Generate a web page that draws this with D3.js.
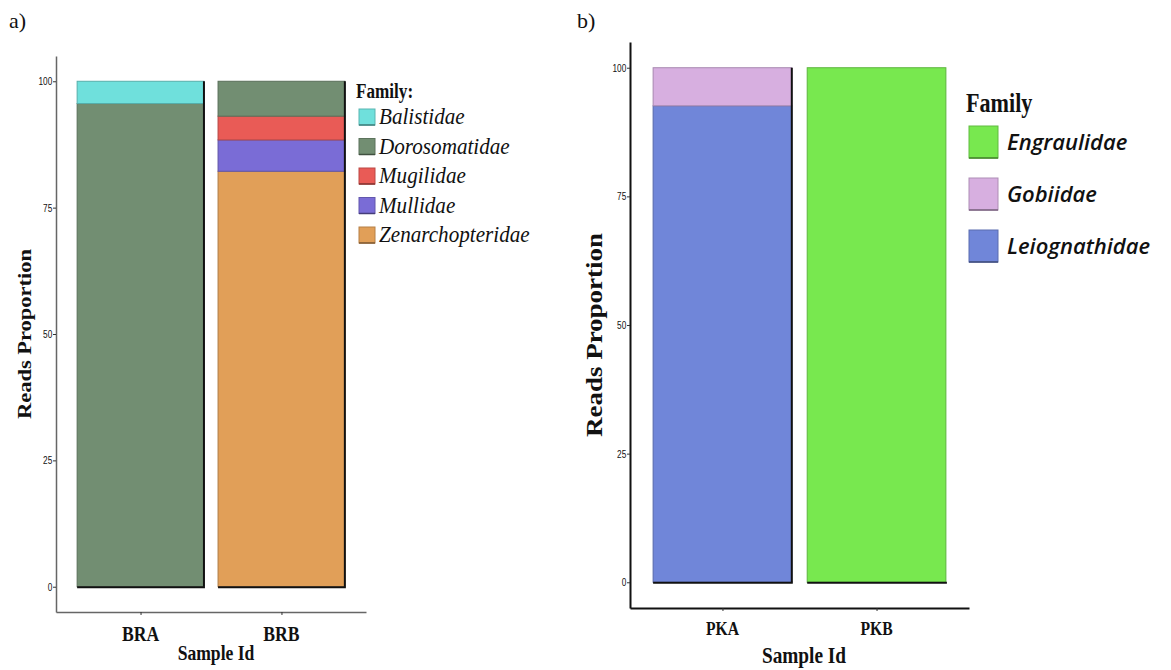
<!DOCTYPE html>
<html>
<head>
<meta charset="utf-8">
<script src="https://cdn.jsdelivr.net/npm/d3@7"></script>
<style>
  body { margin: 0; background: #fff; }
  svg { display: block; }
</style>
</head>
<body>
<svg id="chart" width="1171" height="670"></svg>
<script>
// --- panel a data ---
const samplesA = ['BRA', 'BRB'];
const familiesA = ['Balistidae', 'Dorosomatidae', 'Mugilidae', 'Mullidae', 'Zenarchopteridae'];
const coloursA = ['#6fe0dc', '#728e72', '#e95b56', '#7a6cd6', '#e19f58'];
const readsBRA = [4.4, 95.6, 0, 0, 0];
const readsBRB = [0, 6.9, 4.7, 6.2, 82.2];

// --- panel b data ---
const samplesB = ['PKA', 'PKB'];
const familiesB = ['Engraulidae', 'Gobiidae', 'Leiognathidae'];
const coloursB = ['#78e84f', '#d7afe0', '#7086d9'];
const readsPKA = [0, 7.4, 92.6];
const readsPKB = [100, 0, 0];

const yTicks = [0, 25, 50, 75, 100];

const svg = d3.select('#chart');
svg.append('rect').attr('width', 1171).attr('height', 670).attr('fill', '#fff');

function toRows(samples, families, values) {
  return samples.map((s, i) => {
    const row = { sample: s };
    families.forEach((f, j) => { row[f] = values[i][j]; });
    return row;
  });
}

// text with horizontal squeeze (the figure was saved stretched)
function label(g, txt, x, y, o) {
  const t = g.append('text')
    .attr('transform', `translate(${x},${y})` + (o.rotate ? ' rotate(-90)' : '') +
      (o.rotate ? ` scale(1,${o.sq || 1})` : ` scale(${o.sq || 1},1)`))
    .attr('text-anchor', o.anchor || 'start')
    .style('font-family', o.family || '"Liberation Serif", "Times New Roman", serif')
    .style('font-size', o.size + 'px')
    .style('font-weight', o.weight || 'normal')
    .style('font-style', o.italic ? 'italic' : 'normal')
    .attr('fill', o.fill || '#111')
    .text(txt);
  return t;
}

function drawPanel(p) {
  const g = svg.append('g');
  const rows = toRows(p.samples, p.families, p.values);

  const x = d3.scalePoint().domain(p.samples).range(p.xRange).padding(0.6);
  const y = d3.scaleLinear().domain([-5, 105]).range(p.yRange);
  const bw = x.step() * 0.9;

  // stacked bars, ggplot order: first legend entry on top
  const layers = d3.stack().keys(p.families.slice().reverse())(rows);
  const colourOf = d3.scaleOrdinal().domain(p.families).range(p.colours);

  layers.forEach(layer => {
    g.append('g').selectAll('rect')
      .data(layer.filter(d => d[1] - d[0] > 0))
      .join('rect')
      .attr('x', d => x(d.data.sample) - bw / 2)
      .attr('y', d => y(d[1]))
      .attr('width', bw)
      .attr('height', d => y(d[0]) - y(d[1]))
      .attr('fill', colourOf(layer.key))
      .attr('stroke', d3.color(colourOf(layer.key)).darker(0.7))
      .attr('stroke-width', 1);
  });

  // dark right/bottom edge on each bar
  const edges = g.append('g').attr('stroke', '#111').attr('stroke-width', 2);
  rows.forEach(r => {
    const total = d3.sum(p.families, f => r[f]);
    const x1 = x(r.sample) + bw / 2;
    if (p.rightEdge.includes(r.sample)) {
      edges.append('line').attr('x1', x1).attr('x2', x1).attr('y1', y(total)).attr('y2', y(0));
    }
    edges.append('line').attr('x1', x1 - bw).attr('x2', x1 + 1).attr('y1', y(0) + 0.5).attr('y2', y(0) + 0.5);
  });

  // y axis
  const ya = g.append('g')
    .attr('transform', `translate(${p.xRange[0]},0)`)
    .call(d3.axisLeft(y).tickValues(yTicks).tickSize(3).tickSizeOuter(0).tickPadding(2));
  ya.select('.domain').attr('stroke', p.axisColour).attr('stroke-width', p.axisWidth);
  ya.selectAll('.tick line').attr('stroke', '#333');
  ya.selectAll('.tick text')
    .attr('transform', 'scale(0.75,1)')
    .style('font-family', '"Liberation Sans", Arial, sans-serif')
    .style('font-size', '11px')
    .attr('fill', '#111');

  // x axis
  const xa = g.append('g')
    .attr('transform', `translate(0,${p.yRange[0]})`)
    .call(d3.axisBottom(x).tickSize(3).tickSizeOuter(0));
  xa.select('.domain').attr('stroke', p.axisColour).attr('stroke-width', p.axisWidth);
  xa.selectAll('.tick line').attr('stroke', '#333');
  xa.selectAll('.tick text').remove();
  p.samples.forEach(s => {
    label(g, s, x(s), p.tickBaseline, { size: p.tickSize, weight: 'bold', anchor: 'middle', sq: p.tickSq });
  });

  // axis titles
  label(g, 'Sample Id', p.xTitle[0], p.xTitle[1], { size: p.titleSize, weight: 'bold', anchor: 'middle', sq: p.titleSq });
  label(g, 'Reads Proportion', p.yTitle[0], p.yTitle[1], { size: p.yTitleSize, weight: 'bold', anchor: 'middle', rotate: true, sq: p.titleSq });

  // panel tag
  label(g, p.tag, p.tagPos[0], p.tagPos[1], { size: 22 });

  // legend
  const lg = p.legend;
  label(g, lg.title, lg.x - 3, lg.titleY, { size: lg.titleSize, weight: 'bold', sq: lg.titleSq });
  p.families.forEach((f, i) => {
    const cy = lg.y0 + i * lg.step;
    g.append('rect')
      .attr('x', lg.x).attr('y', cy - lg.h / 2)
      .attr('width', lg.w).attr('height', lg.h)
      .attr('fill', colourOf(f))
      .attr('stroke', d3.color(colourOf(f)).darker(0.6)).attr('stroke-width', 1);
    g.append('line')
      .attr('x1', lg.x).attr('x2', lg.x + lg.w)
      .attr('y1', cy + lg.h / 2).attr('y2', cy + lg.h / 2)
      .attr('stroke', d3.color(colourOf(f)).darker(1.6)).attr('stroke-width', 1.5);
    label(g, f, lg.x + lg.w + lg.gap, cy + lg.dy, {
      size: lg.textSize, italic: true, family: lg.font, weight: lg.textWeight, sq: lg.textSq
    });
  });
}

drawPanel({
  samples: samplesA, families: familiesA, colours: coloursA,
  values: [readsBRA, readsBRB],
  xRange: [56, 366], yRange: [612, 56],
  axisColour: '#666', axisWidth: 1.5,
  rightEdge: ['BRA', 'BRB'],
  tickBaseline: 641, tickSize: 22, tickSq: 0.8,
  xTitle: [216, 660], yTitle: [31, 334], titleSize: 22, yTitleSize: 22.5, titleSq: 0.8,
  tag: 'a)', tagPos: [9, 28],
  legend: {
    title: 'Family:', titleY: 98, titleSize: 22, titleSq: 0.78,
    x: 359, y0: 117, step: 29.5, w: 16, h: 16, gap: 4, dy: 7,
    textSize: 23, textSq: 0.92, textWeight: 'normal',
    font: '"Liberation Serif", "Times New Roman", serif'
  }
});

drawPanel({
  samples: samplesB, families: familiesB, colours: coloursB,
  values: [readsPKA, readsPKB],
  xRange: [630, 969], yRange: [608, 42],
  axisColour: '#111', axisWidth: 2,
  rightEdge: ['PKA'],
  tickBaseline: 635, tickSize: 18, tickSq: 0.87,
  xTitle: [804, 663], yTitle: [602, 335], titleSize: 23, yTitleSize: 27, titleSq: 0.84,
  tag: 'b)', tagPos: [577, 28],
  legend: {
    title: 'Family', titleY: 112, titleSize: 27, titleSq: 0.82,
    x: 969, y0: 142, step: 52, w: 29, h: 32, gap: 9, dy: 8,
    textSize: 22, textSq: 1, textWeight: 600,
    font: '"Open Sans", "Noto Sans", sans-serif'
  }
});
</script>
</body>
</html>
